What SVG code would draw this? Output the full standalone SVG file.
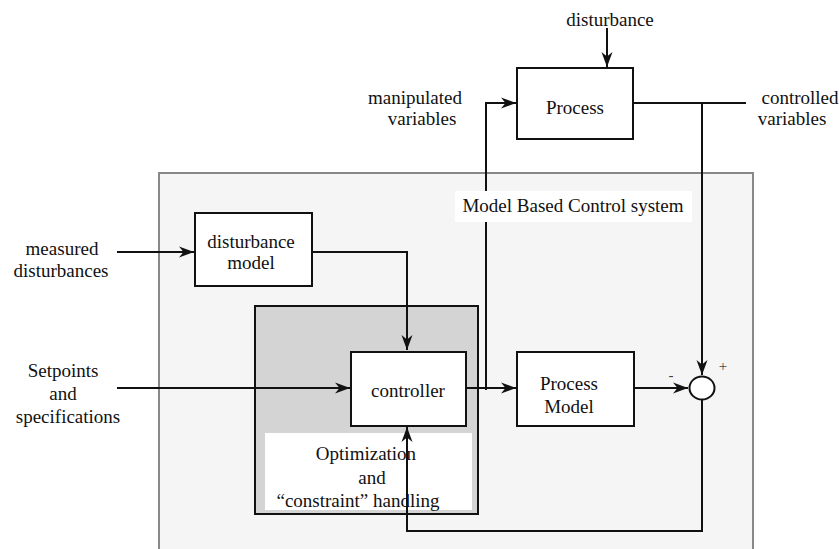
<svg xmlns="http://www.w3.org/2000/svg" width="839" height="549" viewBox="0 0 839 549">
<style>
text{font-family:"Liberation Serif","Times New Roman","DejaVu Serif",serif;font-size:19px;fill:#111;text-anchor:middle}
.box{fill:#fff;stroke:#111;stroke-width:2}
.wire{fill:none;stroke:#111;stroke-width:2}
.arr{marker-end:url(#ah)}
.sign{font-size:15px;fill:#444}
</style>
<defs>
<marker id="ah" markerWidth="16" markerHeight="12" refX="15" refY="6" orient="auto" markerUnits="userSpaceOnUse">
<path d="M0,0.5 L15,6 L0,11.5 L4.5,6 z" fill="#111"/>
</marker>
</defs>
<rect x="0" y="0" width="839" height="549" fill="#fff"/>
<g id="mbc-system">
<rect x="159" y="173" width="594" height="420" fill="#f5f5f5" stroke="#888" stroke-width="2"/>
</g>
<g id="optimization">
<rect x="255" y="306" width="223" height="208" fill="#d4d4d4" stroke="#111" stroke-width="2"/>
<rect x="265" y="433" width="207" height="77" fill="#fff"/>
<text x="366" y="460">Optimization</text>
<text x="372" y="484">and</text>
<text x="358" y="507">“constraint” handling</text>
</g>
<g id="process">
<rect class="box" x="517" y="68" width="116" height="71"/>
<text x="575" y="114">Process</text>
</g>
<g id="disturbance-model">
<rect class="box" x="195" y="213" width="117" height="73"/>
<text x="251" y="248">disturbance</text>
<text x="251" y="269">model</text>
</g>
<g id="controller">
<rect class="box" x="351" y="352" width="115" height="74"/>
<text x="408" y="397">controller</text>
</g>
<g id="process-model">
<rect class="box" x="517" y="352" width="117" height="74"/>
<text x="569" y="390">Process</text>
<text x="569" y="413">Model</text>
</g>
<g id="sum">
<ellipse cx="702" cy="388" rx="12.5" ry="11.5" fill="#fff" stroke="#111" stroke-width="2"/>
<text class="sign" x="671" y="380">-</text>
<text class="sign" x="723" y="371">+</text>
</g>
<g id="labels">
<text x="610" y="26">disturbance</text>
<text x="415" y="104">manipulated</text>
<text x="422" y="125">variables</text>
<text x="800" y="104">controlled</text>
<text x="792" y="125">variables</text>
<text x="62" y="255">measured</text>
<text x="61" y="277">disturbances</text>
<text x="63" y="377">Setpoints</text>
<text x="63" y="400">and</text>
<text x="68" y="423">specifications</text>
</g>
<g id="connectors">
<path class="wire arr" d="M607,28 V67"/>
<path class="wire arr" d="M486,390 V103 H516"/>
<path class="wire" d="M633,103 H746"/>
<path class="wire arr" d="M702,103 V375"/>
<path class="wire arr" d="M117,252 H194"/>
<path class="wire arr" d="M312,252 H407 V350"/>
<path class="wire arr" d="M117,388 H350"/>
<path class="wire arr" d="M466,388 H516"/>
<path class="wire arr" d="M634,388 H688"/>
<path class="wire arr" d="M702,400 V531 H407 V427"/>
</g>
<g id="mbc-label">
<rect x="455" y="191" width="237" height="31" fill="#fff"/>
<text x="573" y="212">Model Based Control system</text>
</g>
</svg>
